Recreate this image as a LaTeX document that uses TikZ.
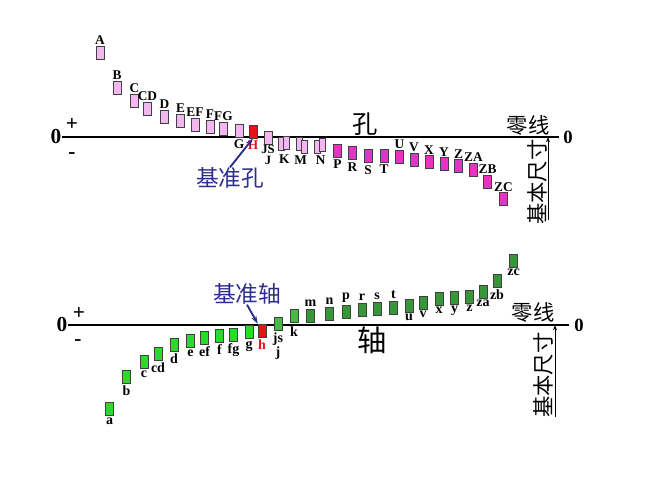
\documentclass[tikz,border=0pt]{standalone}
\usepackage{fontspec}
\setmainfont{Liberation Serif}
\newfontfamily\cjk{Noto Sans CJK SC}
\usetikzlibrary{arrows.meta,positioning}

\definecolor{lightpink}{RGB}{242,182,240}
\definecolor{deeppink}{RGB}{228,52,196}
\definecolor{refred}{RGB}{228,20,20}
\definecolor{litegreen}{RGB}{40,220,40}
\definecolor{midgreen}{RGB}{70,185,70}
\definecolor{darkgreen}{RGB}{55,150,55}
\definecolor{refblue}{RGB}{45,45,140}

\tikzset{
  dev/.style={draw=black!75, line width=0.4pt, minimum width=6pt, minimum height=9.75pt, inner sep=0pt},
  pairdev/.style={dev, fill=lightpink, minimum width=4.5pt},
  pinkdev/.style={dev, fill=lightpink},
  magdev/.style={dev, fill=deeppink},
  reddev/.style={dev, fill=refred},
  litedev/.style={dev, fill=litegreen},
  middev/.style={dev, fill=midgreen},
  darkdev/.style={dev, fill=darkgreen},
  ltr/.style={font=\fontsize{10}{10}\selectfont\bfseries, inner sep=0pt},
  lc/.style={font=\fontsize{10.5}{10.5}\selectfont\bfseries, inner sep=0pt},
  zero/.style={font=\fontsize{16}{16}\selectfont\bfseries, inner sep=0pt},
  sign/.style={font=\fontsize{16}{16}\selectfont\bfseries, inner sep=0pt},
  cjktxt/.style={font=\cjk\fontsize{16}{16}\selectfont, inner sep=0pt},
  axis/.style={line width=1pt},
  dimarrow/.style={-{Stealth[length=4pt,width=3pt]}, line width=0.6pt},
  refarrow/.style={-{Stealth[length=6pt,width=4pt]}, line width=1.4pt, refblue},
}

\begin{document}
\begin{tikzpicture}[x=0.75pt, y=-0.75pt]
    \useasboundingbox (0,0) rectangle (667,500);

    % Holes: zero line
    \node[zero] (zeroTL) at (56,137) {0};
    \node[sign] (plusT) at (72,124) {+};
    \node[sign] (minusT) at (72,156) {-};
    \node[zero, font=\fontsize{14}{14}\selectfont\bfseries] (zeroTR) at (568,137) {0};
    \draw[axis, shorten >=3pt] (zeroTL.east) -- (zeroTR.west);
    \node[cjktxt, font=\cjk\fontsize{19}{19}\selectfont] (hole) at (365,124) {孔};
    \node[cjktxt] (zlineT) at (528,125) {零线};
    \node[cjktxt, rotate=90] (sizeT) at (537,182) {基本尺寸};
    \coordinate (baseT) at (548,220);
    \draw[dimarrow] (baseT) -- (baseT |- zeroTR);

    % Holes: deviations above the line
    \foreach \nm/\cx/\cy in {A/100/52.5, B/117/87.5, C/134.5/100.5, CD/147.5/109, D/164.5/116.5,
        E/180.5/120.5, EF/195/124.5, F/210/127, FG/223.5/129} {
        \node[pinkdev] (\nm) at (\cx,\cy) {};
        \node[ltr, above=1pt of \nm] (l\nm) {\nm};
    }
    \node[pinkdev] (G) at (239,130.5) {};
    \node[ltr, below=1.5pt of G] (lG) {G};
    \node[reddev] (H) at (253,131.5) {};
    \node[ltr, text=refred, below=1.5pt of H] (lH) {H};
    \node[pinkdev] (JS) at (268,137.5) {};
    \node[ltr, font=\fontsize{9.5}{9.5}\selectfont\bfseries, below=0.3pt of JS] (lJS) {JS};
    \node[ltr, font=\fontsize{9.5}{9.5}\selectfont\bfseries, below=2pt of lJS] (lJ) {J};

    % K, M, N pairs
    \node[pairdev] (K1) at (281,143.5) {};
    \node[pairdev] (K2) at (286,142.5) {};
    \node[ltr, below=3pt of K1.south east] (lK) {K};
    \node[pairdev] (M1) at (299,143.5) {};
    \node[pairdev] (M2) at (304,146.5) {};
    \node[ltr, below=1.5pt of M2.south west] (lM) {M};
    \node[pairdev] (N1) at (317.5,147) {};
    \node[pairdev] (N2) at (322,144.5) {};
    \node[ltr, below=1.5pt of N1.south east] (lN) {N};

    % Holes: deviations below the line
    \foreach \nm/\cx/\cy in {P/337.5/150.5, R/352.5/153, S/368/155.5, T/384/155.5} {
        \node[magdev] (\nm) at (\cx,\cy) {};
        \node[ltr, below=2pt of \nm] (l\nm) {\nm};
    }
    \foreach \nm/\cx/\cy in {U/399.5/156.5, V/414/159.5, X/429/162, Y/444/164, Z/458.5/166,
        ZA/473.5/169.5, ZB/487.5/181.5, ZC/503.5/199} {
        \node[magdev] (\nm) at (\cx,\cy) {};
        \node[ltr, above=0.5pt of \nm] (l\nm) {\nm};
    }

    % Basic hole
    \node[cjktxt, font=\cjk\fontsize{17}{17}\selectfont, text=refblue] (refhole) at (230,178) {基准孔};
    \draw[refarrow] (refhole.north) -- (H.south);

    % Shafts: zero line
    \node[zero] (zeroBL) at (62,325) {0};
    \node[sign] (plusB) at (79,313) {+};
    \node[sign] (minusB) at (78,343) {-};
    \node[zero, font=\fontsize{14}{14}\selectfont\bfseries] (zeroBR) at (579,325) {0};
    \draw[axis, shorten >=4pt] (zeroBL.east) -- (zeroBR.west);
    \node[cjktxt, font=\cjk\fontsize{22}{22}\selectfont] (shaft) at (372,340) {轴};
    \node[cjktxt] (zlineB) at (533,312) {零线};
    \node[cjktxt, rotate=90] (sizeB) at (543,375) {基本尺寸};
    \coordinate (baseB) at (555,417);
    \draw[dimarrow] (baseB) -- (baseB |- zeroBR);

    % Shafts: deviations below the line
    \foreach \nm/\cx/\cy in {a/109.5/409, b/126.5/376.5, c/144/361.5, cd/158/353.5, d/174/344.5,
        e/190.5/341, ef/204.5/338, f/219.5/335.5, fg/233.5/334.5, g/249/332} {
        \node[litedev] (\nm) at (\cx,\cy) {};
        \node[lc, below=1.5pt of \nm] (l\nm) {\nm};
    }
    \node[reddev] (h) at (262,330.5) {};
    \node[lc, text=refred, below=2pt of h] (lh) {h};
    \node[middev] (js) at (278,323.5) {};
    \node[lc, below=1.5pt of js] (ljs) {js};
    \node[lc, below=0.5pt of ljs] (lj) {j};
    \node[middev] (k) at (294,315.5) {};
    \node[lc, below=3pt of k] (lk) {k};

    % Shafts: deviations above the line
    \foreach \nm/\cx/\cy in {m/310.5/315.5, n/329.5/314, p/346/311.5, r/362/310, s/377/309, t/393.5/308} {
        \node[darkdev] (\nm) at (\cx,\cy) {};
        \node[lc, above=1.5pt of \nm] (l\nm) {\nm};
    }
    \foreach \nm/\cx/\cy in {u/409/305.5, v/423/303, x/439/299, y/454.5/298, z/469.5/296.5,
        za/483/292, zb/497/281, zc/513.5/261} {
        \node[darkdev] (\nm) at (\cx,\cy) {};
        \node[lc, below=1pt of \nm] (l\nm) {\nm};
    }

    % Basic shaft
    \node[cjktxt, font=\cjk\fontsize{17}{17}\selectfont, text=refblue] (refshaft) at (247,294) {基准轴};
    \draw[refarrow] (refshaft.south) -- (h.north west);
\end{tikzpicture}
\end{document}
